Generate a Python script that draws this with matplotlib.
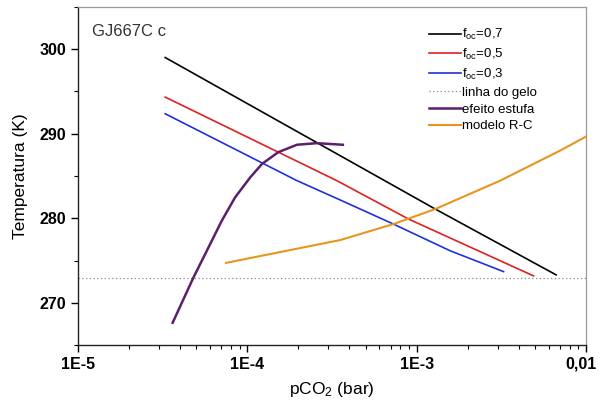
import matplotlib
matplotlib.use("Agg")
import matplotlib.pyplot as plt
from matplotlib.transforms import ScaledTranslation
from matplotlib.ticker import FixedLocator, FixedFormatter, LogLocator, NullFormatter, MultipleLocator

plt.rcParams['font.family'] = ['Liberation Sans', 'DejaVu Sans']
plt.rcParams['mathtext.fontset'] = 'custom'
plt.rcParams['mathtext.rm'] = 'Liberation Sans'
plt.rcParams['mathtext.it'] = 'Liberation Sans:italic'

# Surface temperature vs CO2 partial pressure, for three ocean fractions
p_f07 = [3.27e-5, 1.285e-3, 6.65e-3]
t_f07 = [299.02, 281.10, 273.31]

p_f05 = [3.27e-5, 3.37e-4, 8.93e-4, 4.89e-3]
t_f05 = [294.34, 284.46, 279.92, 273.19]

p_f03 = [3.27e-5, 1.96e-4, 3.53e-4, 7.28e-4, 1.575e-3, 3.25e-3]
t_f03 = [292.37, 284.46, 282.17, 279.32, 276.16, 273.70]

# Greenhouse effect curve
p_estufa = [3.62e-5, 4.80e-5, 5.89e-5, 7.06e-5, 8.46e-5, 1.04e-4,
            1.22e-4, 1.52e-4, 1.96e-4, 2.57e-4, 3.66e-4]
t_estufa = [267.65, 272.99, 276.55, 279.72, 282.48, 284.85,
            286.44, 287.82, 288.70, 288.89, 288.70]

# Radiative-convective model
p_rc = [7.48e-5, 3.53e-4, 7.28e-4, 1.285e-3, 3.11e-3, 7.03e-3, 1.0e-2]
t_rc = [274.73, 277.43, 279.32, 281.10, 284.46, 288.02, 289.68]

# Ice line
t_gelo = 273.0

x_ticks = [1e-5, 1e-4, 1e-3, 1e-2]
x_labels = ['1E-5', '1E-4', '1E-3', '0,01']
y_ticks = [270, 280, 290, 300]

fig = plt.figure(figsize=(6.0, 4.08), dpi=100)
ax = fig.add_axes([0.13, 0.154, 0.847, 0.829])

ax.plot(p_f07, t_f07, color='black', lw=1.2, label=r'f$_{\mathrm{oc}}$=0,7')
ax.plot(p_f05, t_f05, color='#e02020', lw=1.2, label=r'f$_{\mathrm{oc}}$=0,5')
ax.plot(p_f03, t_f03, color='#2030d8', lw=1.2, label=r'f$_{\mathrm{oc}}$=0,3')
ax.axhline(t_gelo, color='#888888', lw=0.9, ls=(0, (1, 2)), label='linha do gelo')
ax.plot(p_estufa, t_estufa, color='#5b1f6e', lw=1.8, label='efeito estufa')
ax.plot(p_rc, t_rc, color='#e8951f', lw=1.5, label='modelo R-C')

ax.set_xscale('log')
ax.set_xlim(1e-5, 1e-2)
ax.set_ylim(265, 305)

ax.xaxis.set_major_locator(FixedLocator(x_ticks))
ax.xaxis.set_major_formatter(FixedFormatter(x_labels))
ax.xaxis.set_minor_locator(LogLocator(base=10, subs=range(2, 10)))
ax.xaxis.set_minor_formatter(NullFormatter())
ax.yaxis.set_major_locator(FixedLocator(y_ticks))
ax.yaxis.set_minor_locator(MultipleLocator(5))

ax.tick_params(which='major', direction='out', length=5, width=1, labelsize=11.5)
ax.tick_params(which='minor', direction='out', length=3, width=0.8)
for lab in ax.get_xticklabels() + ax.get_yticklabels():
    lab.set_fontweight('bold')

# keep the last x label inside the figure
last = ax.get_xticklabels()[-1]
last.set_transform(last.get_transform() + ScaledTranslation(-0.05, 0, fig.dpi_scale_trans))

for s in ['left', 'bottom']:
    ax.spines[s].set_color('#222222')
    ax.spines[s].set_linewidth(1.0)
for s in ['top', 'right']:
    ax.spines[s].set_color('#999999')
    ax.spines[s].set_linewidth(0.9)

ax.set_xlabel(r'pCO$_{\mathrm{2}}$ (bar)', fontsize=12.5, labelpad=6)
ax.set_ylabel('Temperatura (K)', fontsize=12.5, labelpad=8)

ax.text(0.028, 0.926, 'GJ667C c', transform=ax.transAxes, fontsize=12,
        color='#333333', va='center', ha='left')

leg = ax.legend(loc='upper left', bbox_to_anchor=(0.667, 0.975), frameon=False,
                fontsize=9.5, handlelength=2.4, handletextpad=0.15,
                labelspacing=0.35, borderpad=0.4)

fig.savefig('out.png', dpi=100)
